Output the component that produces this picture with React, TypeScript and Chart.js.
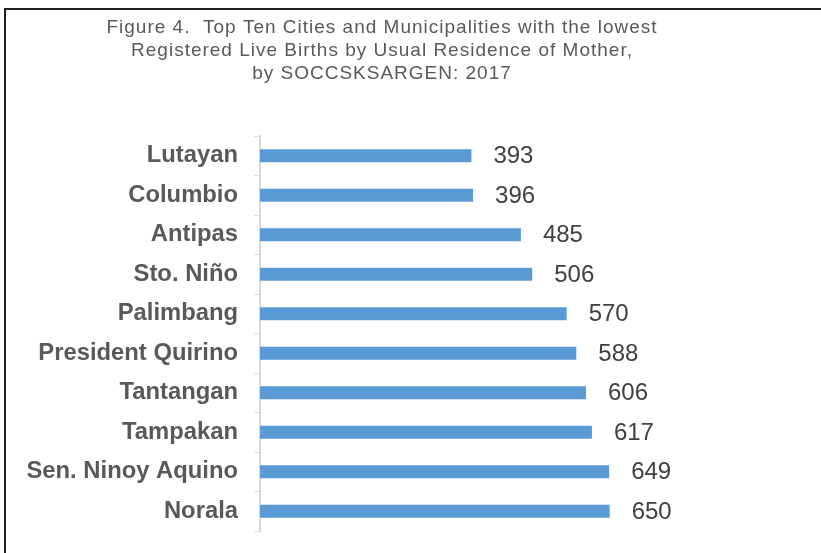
import React, { useEffect, useRef } from "react";
import { Chart, registerables } from "chart.js";

Chart.register(...registerables);

const titleLines = [
  "Figure 4.  Top Ten Cities and Municipalities with the lowest",
  "Registered Live Births by Usual Residence of Mother,",
  "by SOCCSKSARGEN: 2017",
];

const categories = [
  "Lutayan",
  "Columbio",
  "Antipas",
  "Sto. Niño",
  "Palimbang",
  "President Quirino",
  "Tantangan",
  "Tampakan",
  "Sen. Ninoy Aquino",
  "Norala",
];

const births = [393, 396, 485, 506, 570, 588, 606, 617, 649, 650];

const FONT = "'Liberation Sans', Arial, Helvetica, sans-serif";

const frame = {
  id: "frame",
  beforeDraw(chart: any) {
    const ctx = chart.ctx;
    ctx.save();
    ctx.fillStyle = "#ffffff";
    ctx.fillRect(0, 0, chart.width, chart.height);
    ctx.strokeStyle = "#1e1e1e";
    ctx.lineWidth = 2;
    ctx.beginPath();
    ctx.moveTo(5, chart.height);
    ctx.lineTo(5, 9);
    ctx.lineTo(chart.width, 9);
    ctx.stroke();
    ctx.restore();
  },
};

const figureTitle = {
  id: "figureTitle",
  afterDraw(chart: any) {
    const ctx = chart.ctx;
    ctx.save();
    ctx.font = `19px ${FONT}`;
    (ctx as any).letterSpacing = "1px";
    ctx.fillStyle = "#595959";
    ctx.textAlign = "center";
    ctx.textBaseline = "middle";
    titleLines.forEach((line, i) => {
      ctx.fillText(line, 382, 28 + i * 22.7);
    });
    ctx.restore();
  },
};

const valueLabels = {
  id: "valueLabels",
  afterDatasetsDraw(chart: any) {
    const ctx = chart.ctx;
    const meta = chart.getDatasetMeta(0);
    const data = chart.data.datasets[0].data;
    ctx.save();
    ctx.font = `24px ${FONT}`;
    ctx.fillStyle = "#404040";
    ctx.textAlign = "left";
    ctx.textBaseline = "middle";
    meta.data.forEach((bar: any, i: number) => {
      ctx.fillText(String(data[i]), bar.x + 22, bar.y + 1);
    });
    ctx.restore();
  },
};

export default function App() {
  const ref = useRef<HTMLCanvasElement>(null);

  useEffect(() => {
    if (!ref.current) return;
    Chart.defaults.font.family = FONT;
    const chart = new Chart(ref.current, {
      type: "bar",
      data: {
        labels: categories,
        datasets: [
          {
            data: births,
            backgroundColor: "#5B9BD5",
            borderWidth: 0,
            categoryPercentage: 1,
            barPercentage: 0.33,
          },
        ],
      },
      options: {
        indexAxis: "y",
        animation: false,
        responsive: false,
        devicePixelRatio: 1,
        layout: { padding: { left: 0, right: 58, top: 136, bottom: 22 } },
        plugins: {
          legend: { display: false },
          tooltip: { enabled: false },
          title: { display: false },
        },
        scales: {
          x: {
            display: false,
            min: 0,
            max: 935,
          },
          y: {
            afterFit(scale: any) {
              scale.width = 260;
              scale.paddingTop = 0;
              scale.paddingBottom = 0;
            },
            grid: {
              display: true,
              drawOnChartArea: false,
              drawTicks: true,
              tickLength: 6,
              color: "#d9d9d9",
              lineWidth: 1,
            },
            border: { display: true, color: "#d9d9d9", width: 2 },
            ticks: {
              color: "#595959",
              padding: 16,
              font: { size: 23.8, weight: "bold", family: FONT },
            },
          },
        },
      },
      plugins: [frame, valueLabels, figureTitle],
    });
    return () => chart.destroy();
  }, []);

  return (
    <div style={{ position: "absolute", left: 0, top: 0, width: 821, height: 553 }}>
      <canvas ref={ref} width={821} height={553} style={{ width: 821, height: 553 }} />
    </div>
  );
}
